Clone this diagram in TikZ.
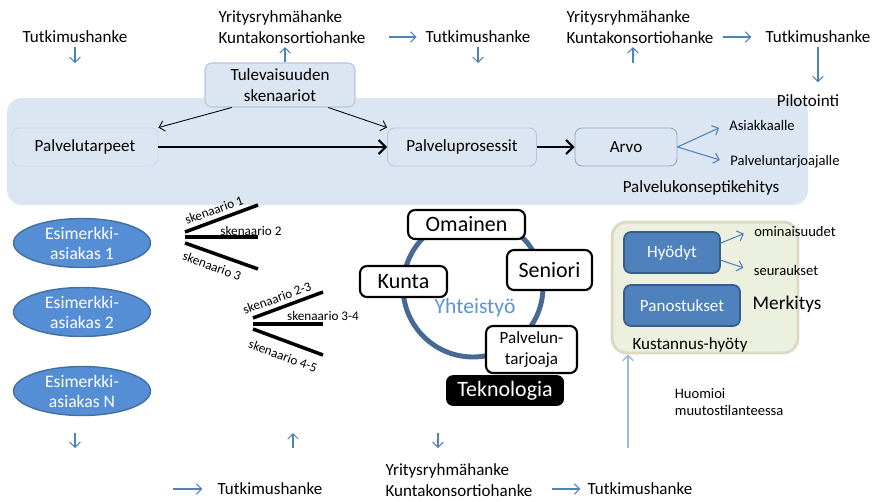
\documentclass[tikz,border=0pt]{standalone}
\usepackage{fontspec}
\setmainfont{Carlito}
\usetikzlibrary{shapes.geometric,arrows.meta}
\definecolor{panelblue}{HTML}{DCE6F2}
\definecolor{panelline}{HTML}{B3C6E0}
\definecolor{faintline}{HTML}{C9D8EB}
\definecolor{arvoline}{HTML}{8EA9CC}
\definecolor{linkblue}{HTML}{4F81BD}
\definecolor{paleblue}{HTML}{9DB9DC}
\definecolor{ovalblue}{HTML}{558ED5}
\definecolor{ovalline}{HTML}{41719C}
\definecolor{boxblue}{HTML}{4F81BD}
\definecolor{boxline}{HTML}{385D8A}
\definecolor{ringblue}{HTML}{476A94}
\definecolor{textblue}{HTML}{5B93D9}
\definecolor{greenfill}{HTML}{EBF1DE}
\definecolor{greenline}{HTML}{DDD9C3}
\tikzset{txt/.style={font=\fontsize{9.7}{11.6}\selectfont, inner sep=2pt, align=left}}
\tikzset{smalltxt/.style={font=\fontsize{8.3}{10.2}\selectfont, inner sep=2pt, align=left}}
\tikzset{scentxt/.style={font=\fontsize{7.5}{9}\selectfont, inner sep=1pt}}
\tikzset{procbox/.style={txt, align=center, draw=faintline, line width=0.5pt,
  rounded corners=4pt, minimum height=0.76cm}}
\tikzset{futbox/.style={txt, align=center, fill=panelblue, draw=panelline,
  line width=0.6pt, rounded corners=4pt, minimum width=3cm, minimum height=0.88cm}}
\tikzset{oval/.style={ellipse, fill=ovalblue, draw=ovalline, line width=0.8pt,
  text=white, font=\fontsize{10}{11.4}\selectfont, align=center,
  minimum width=2.74cm, minimum height=0.98cm, inner sep=0pt}}
\tikzset{rolebox/.style={draw=black, fill=white, line width=1.2pt, rounded corners=4pt,
  font=\fontsize{12.5}{14}\selectfont, inner sep=0pt}}
\tikzset{techbox/.style={fill=black, text=white, rounded corners=4pt,
  font=\fontsize{12.5}{14}\selectfont, minimum width=2.36cm, minimum height=0.58cm}}
\tikzset{greenbox/.style={fill=greenfill, draw=greenline, line width=1.7pt, rounded corners=0.3cm}}
\tikzset{hyotybox/.style={txt, align=center, text=white, fill=boxblue, draw=boxline,
  line width=1pt, rounded corners=4pt, minimum height=0.82cm}}
\tikzset{fan/.style={line width=2pt}}
\tikzset{mainarrow/.style={line width=1.2pt, -{Straight Barb[length=4pt,width=8pt]}}}
\tikzset{futarrow/.style={line width=0.5pt, -{Straight Barb[length=3pt,width=6pt]}}}
\tikzset{linkarrow/.style={draw=linkblue, line width=0.6pt, -{Straight Barb[length=3pt,width=6pt]}}}
\tikzset{palearrow/.style={draw=paleblue, line width=0.8pt, -{Straight Barb[length=3pt,width=6pt]}}}

\begin{document}
\begin{tikzpicture}[x=0.02cm, y=-0.02cm]
\useasboundingbox (0,0) rectangle (875,501);

% service concept panel
\fill[panelblue, rounded corners=0.3cm] (7,98) rectangle (808,205);

% top row of projects
\node[txt] (tutA) at (75,37) {Tutkimushanke};
\node[txt] (yrA) at (292,27) {Yritysryhmähanke\\Kuntakonsortiohanke};
\node[txt] (tutB) at (478,37) {Tutkimushanke};
\node[txt] (yrB) at (640,27) {Yritysryhmähanke\\Kuntakonsortiohanke};
\node[txt] (tutC) at (818,37) {Tutkimushanke};
\node[txt] (pilot) at (808,101) {Pilotointi};

\node[futbox] (tul) at (280,85) {Tulevaisuuden\\skenaariot};
\node[procbox, minimum width=2.92cm] (tarpeet) at (85,147) {Palvelutarpeet};
\node[procbox, draw=panelline, minimum width=2.98cm] (prosessit) at (462,147) {Palveluprosessit};
\node[procbox, draw=arvoline, minimum width=2.04cm] (arvo) at (626,147) {Arvo};
\node[smalltxt] (asiak) at (762,125) {Asiakkaalle};
\node[smalltxt] (ptarj) at (785,162) {Palveluntarjoajalle};
\node[txt] (konsepti) at (701,188) {Palvelukonseptikehitys};

\coordinate (tutAend) at (75,63);
\draw[linkarrow] (tutA) -- (tutAend);
\draw[linkarrow] ([xshift=0.1cm]tul.north) -- ([xshift=0.1cm]tul.north |- yrA.south);
\draw[linkarrow, shorten <=11pt, shorten >=3pt] (yrA.east |- tutB) -- (tutB.west);
\coordinate (tutBend) at (478,63);
\draw[linkarrow] (tutB) -- (tutBend);
\coordinate (yrBstart) at (633,63);
\draw[linkarrow] (yrBstart) -- (yrBstart |- yrB.south);
\draw[linkarrow, shorten <=3pt, shorten >=6pt] (yrB.east |- tutC) -- (tutC.west);
\draw[linkarrow, shorten >=5pt] (tutC) -- (tutC |- pilot.north);

\draw[mainarrow] (tarpeet) -- (prosessit);
\draw[mainarrow] (prosessit) -- (arvo);
\draw[futarrow] (tul.205) -- (tarpeet.north east);
\draw[futarrow] (tul.335) -- (prosessit.north west);
\draw[linkarrow, shorten >=4pt] (arvo.east) -- (asiak.west);
\draw[linkarrow, shorten >=4pt] (arvo.east) -- (ptarj.west);

% example customers
\node[oval] (asiak1) at (82,243) {Esimerkki-\\asiakas 1};
\node[oval] (asiak2) at (82,312) {Esimerkki-\\asiakas 2};
\node[oval] (asiakN) at (82,391) {Esimerkki-\\asiakas N};

% scenario fans
\draw[fan] (185,232) -- (258,205);
\draw[fan] (185,237) -- (258,237);
\draw[fan] (185,243) -- (258,269);
\node[scentxt, rotate=20] (sc1) at (214,210) {skenaario 1};
\node[scentxt] (sc2) at (251,231) {skenaario 2};
\node[scentxt, rotate=-20] (sc3) at (212,266) {skenaario 3};
\draw[fan] (253,318) -- (323,292);
\draw[fan] (253,324) -- (323,324);
\draw[fan] (253,329) -- (323,355);
\node[scentxt, rotate=20] (sc23) at (277,298) {skenaario 2-3};
\node[scentxt] (sc34) at (323,316) {skenaario 3-4};
\node[scentxt, rotate=-20] (sc45) at (283,356) {skenaario 4-5};

% cooperation ring
\draw[draw=ringblue, line width=2.8pt] (473,287) circle [radius=1.4cm];
\node[font=\fontsize{12.3}{14}\selectfont, text=textblue] (yht) at (475,308) {Yhteistyö};
\node[rolebox, minimum width=2.34cm, minimum height=0.58cm] (omainen) at (466.5,224.5) {Omainen};
\node[rolebox, minimum width=1.7cm, minimum height=0.8cm] (seniori) at (549.5,270) {Seniori};
\node[rolebox, minimum width=1.74cm, minimum height=0.62cm] (kunta) at (403.5,281.5) {Kunta};
\node[rolebox, font=\fontsize{9.7}{12}\selectfont, align=center,
  minimum width=1.82cm, minimum height=0.94cm] (ptarjoaja) at (531.5,349.5) {Palvelun-\\tarjoaja};
\node[techbox] (tekno) at (505,390.5) {Teknologia};

% cost-benefit
\node[greenbox, minimum width=3.72cm, minimum height=2.62cm] (kbox) at (705,287.5) {};
\node[hyotybox, minimum width=1.92cm] (hyodyt) at (672,252.5) {Hyödyt};
\node[hyotybox, minimum width=2.32cm] (panos) at (682,305.5) {Panostukset};
\node[smalltxt] (omin) at (795,231) {ominaisuudet};
\node[smalltxt] (seur) at (786,270) {seuraukset};
\node[font=\fontsize{11}{13}\selectfont] (merk) at (787,304) {Merkitys};
\node[txt] (kust) at (690,345) {Kustannus-hyöty};
\draw[linkarrow, shorten >=4pt] (hyodyt.11) -- (omin.west);
\draw[linkarrow, shorten >=4pt] (hyodyt.-9) -- (seur.west);
\node[smalltxt, anchor=west] (huom) at (671,402) {Huomioi\\muutostilanteessa};
\coordinate (kstart) at (628,448);
\draw[palearrow] (kstart) -- (kstart |- kbox.south);

% bottom row of projects
\coordinate (dA1) at (75,433);
\coordinate (dA2) at (75,448);
\draw[linkarrow] (dA1) -- (dA2);
\coordinate (dB1) at (293,448);
\coordinate (dB2) at (293,433);
\draw[linkarrow] (dB1) -- (dB2);
\coordinate (dC1) at (438,433);
\coordinate (dC2) at (438,448);
\draw[linkarrow] (dC1) -- (dC2);
\node[txt] (tutD) at (270,489) {Tutkimushanke};
\node[txt] (yrC) at (459,480) {Yritysryhmähanke\\Kuntakonsortiohanke};
\node[txt] (tutE) at (640,489) {Tutkimushanke};
\coordinate (tutDin) at (173,489);
\draw[linkarrow, shorten >=6.5pt] (tutDin) -- (tutD.west);
\draw[linkarrow, shorten <=9pt, shorten >=2pt] (yrC.east |- tutE) -- (tutE.west);

\end{tikzpicture}
\end{document}
